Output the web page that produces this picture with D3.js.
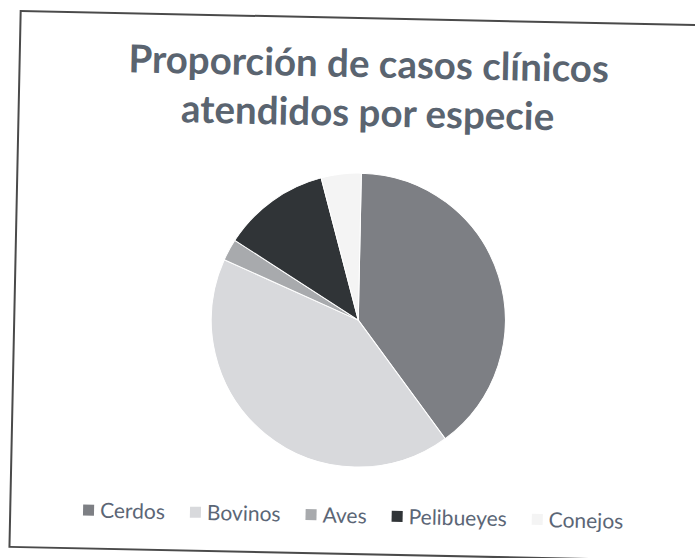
<!DOCTYPE html>
<html>
<head>
<meta charset="utf-8">
<script src="https://cdn.jsdelivr.net/npm/d3@7"></script>
<style>
  html, body { margin: 0; padding: 0; background: #fff; }
  svg { display: block; }
</style>
</head>
<body>
<div id="chart"></div>
<script>
// Data (percent of cases)
const species = ['Cerdos', 'Bovinos', 'Aves', 'Pelibueyes', 'Conejos']
const shares = [39.6, 41.8, 2.4, 11.8, 4.4]
const sliceColors = ['#7d7f84', '#d8d9dc', '#a8aaad', '#303437', '#f4f4f4']
const titleLines = ['Proporción de casos clínicos', 'atendidos por especie']

const W = 695, H = 558
const svg = d3.select('#chart').append('svg')
  .attr('width', W)
  .attr('height', H)

// the scan is tilted a little clockwise
const g = svg.append('g')
  .attr('transform', 'rotate(1.2, 353, 286)')

// chart frame
g.append('rect')
  .attr('x', 15).attr('y', 18)
  .attr('width', 692).attr('height', 536)
  .attr('fill', '#fff')
  .attr('stroke', '#4a4a4a')
  .attr('stroke-width', 2)

// Title
g.append('g').selectAll('text')
  .data(titleLines)
  .enter()
  .append('text')
  .attr('x', 364)
  .attr('y', (d, i) => 77 + i * 49)
  .attr('text-anchor', 'middle')
  .style('font-family', 'Lato, "Open Sans", sans-serif')
  .style('font-weight', 'bold')
  .style('font-size', '38.5px')
  .style('fill', '#5a6470')
  .text(d => d)

// Pie
const data = species.map((s, i) => ({ name: s, value: shares[i] }))
const color = d3.scaleOrdinal().domain(species).range(sliceColors)
const pie = d3.pie().value(d => d.value).sort(null)
const arc = d3.arc().innerRadius(0).outerRadius(147)

const pieG = g.append('g')
  .attr('transform', 'translate(359,320)')

pieG.selectAll('path')
  .data(pie(data))
  .enter()
  .append('path')
  .attr('d', arc)
  .attr('fill', d => color(d.data.name))
  .attr('stroke', '#fff')
  .attr('stroke-width', 1)

// Legend
const legend = g.append('g')
const items = legend.selectAll('g')
  .data(species)
  .enter()
  .append('g')

items.append('rect')
  .attr('width', 11)
  .attr('height', 11)
  .attr('y', -13)
  .attr('fill', d => color(d))

items.append('text')
  .attr('x', 17)
  .style('font-family', 'Lato, "Open Sans", sans-serif')
  .style('font-size', '21px')
  .style('fill', '#5b6676')
  .text(d => d)

// place items one after another, then center the row
let cursor = 0
items.each(function () {
  const w = d3.select(this).select('text').node().getComputedTextLength()
  d3.select(this).attr('transform', `translate(${cursor},0)`)
  cursor += 17 + w + 25
})
const legendWidth = cursor - 25
legend.attr('transform', `translate(${358 - legendWidth / 2},523)`)
</script>
</body>
</html>
